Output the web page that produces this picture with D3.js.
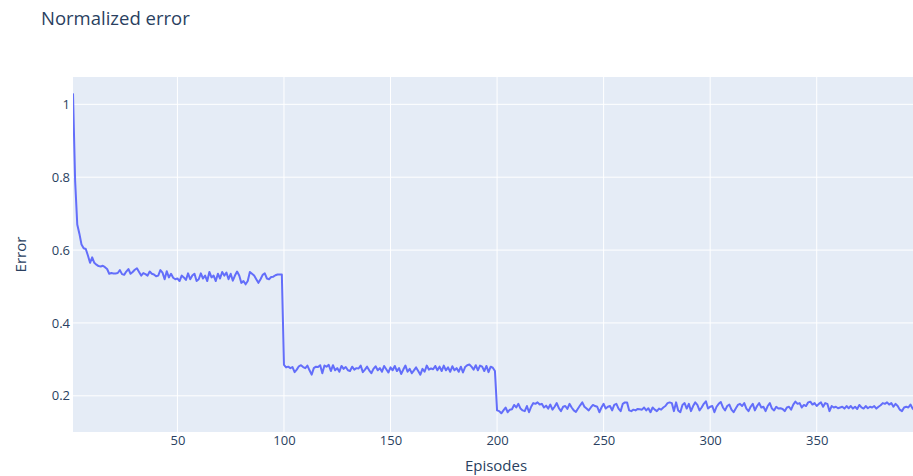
<html>
<script src='https://d3js.org/d3.v7.min.js'></script>
<style>
body {margin: 0; background: white;}
text {font-family: 'Open Sans', sans-serif; fill: #2a3f5f;}
</style>
<body>
<svg width=913 height=476></svg>
<script>
// episodes 1-100
var errA = [
  1.03, 0.79, 0.67, 0.645, 0.615, 0.605, 0.603, 0.585, 0.565, 0.58,
  0.565, 0.56, 0.556, 0.555, 0.557, 0.553, 0.548, 0.535, 0.537, 0.536,
  0.536, 0.537, 0.545, 0.534, 0.532, 0.541, 0.548, 0.535, 0.54, 0.546,
  0.55, 0.54, 0.53, 0.537, 0.534, 0.53, 0.541, 0.535, 0.533, 0.528,
  0.53, 0.545, 0.538, 0.52, 0.542, 0.525, 0.535, 0.524, 0.52, 0.522,
  0.515, 0.53, 0.525, 0.518, 0.536, 0.52, 0.53, 0.535, 0.515, 0.52,
  0.536, 0.522, 0.53, 0.515, 0.54, 0.525, 0.53, 0.515, 0.535, 0.522,
  0.54, 0.53, 0.538, 0.52, 0.535, 0.516, 0.53, 0.541, 0.53, 0.51,
  0.515, 0.506, 0.515, 0.54, 0.535, 0.53, 0.52, 0.51, 0.52, 0.532,
  0.536, 0.522, 0.52, 0.526, 0.527, 0.531, 0.533, 0.533, 0.533, 0.285
];
// episodes 101-200
var errB = [
  0.278, 0.28, 0.276, 0.279, 0.265, 0.272, 0.281, 0.284, 0.279, 0.276,
  0.283, 0.27, 0.258, 0.276, 0.28, 0.279, 0.284, 0.262, 0.283, 0.28,
  0.285, 0.268, 0.284, 0.27, 0.276, 0.266, 0.282, 0.274, 0.279, 0.27,
  0.268, 0.28, 0.272, 0.276, 0.275, 0.283, 0.265, 0.272, 0.28, 0.27,
  0.262, 0.274, 0.281, 0.27, 0.276, 0.266, 0.282, 0.273, 0.264, 0.278,
  0.27, 0.282, 0.268, 0.276, 0.26, 0.272, 0.283, 0.266, 0.274, 0.262,
  0.27, 0.278, 0.268, 0.258, 0.274, 0.266, 0.283, 0.272, 0.275, 0.273,
  0.282, 0.27, 0.28, 0.268, 0.283, 0.27, 0.278, 0.266, 0.281, 0.27,
  0.276, 0.266, 0.28, 0.264, 0.279, 0.284, 0.286, 0.28, 0.272, 0.284,
  0.27, 0.283, 0.28, 0.268, 0.282, 0.265, 0.28, 0.277, 0.268, 0.16
];
// episodes 201-398
var errC = [
  0.158, 0.152, 0.16, 0.168, 0.155, 0.162, 0.163, 0.175, 0.168, 0.178,
  0.165, 0.16, 0.158, 0.172, 0.155, 0.17, 0.18, 0.178, 0.182, 0.176,
  0.178, 0.168, 0.173, 0.165, 0.176, 0.162, 0.17, 0.18, 0.166, 0.158,
  0.17, 0.172, 0.164, 0.178, 0.168, 0.16, 0.156, 0.165, 0.174, 0.182,
  0.17, 0.165, 0.16, 0.168, 0.175, 0.172, 0.17, 0.155, 0.168, 0.178,
  0.165, 0.17, 0.172, 0.16, 0.175, 0.178, 0.165, 0.158, 0.178, 0.182,
  0.182, 0.16, 0.158, 0.162, 0.16, 0.164, 0.163, 0.162, 0.168, 0.16,
  0.166, 0.155, 0.168, 0.162, 0.158, 0.165, 0.162, 0.168, 0.172, 0.18,
  0.182, 0.18, 0.158, 0.182, 0.16, 0.155, 0.175, 0.18, 0.165, 0.178,
  0.158, 0.172, 0.182, 0.175, 0.16, 0.168, 0.178, 0.185, 0.165, 0.17,
  0.172, 0.155, 0.17, 0.178, 0.183, 0.168, 0.16, 0.172, 0.176, 0.162,
  0.155, 0.165, 0.175, 0.178, 0.172, 0.18, 0.165, 0.158, 0.17, 0.178,
  0.16, 0.172, 0.18, 0.168, 0.17, 0.158, 0.172, 0.18, 0.165, 0.16,
  0.17, 0.165, 0.166, 0.164, 0.158, 0.168, 0.17, 0.162, 0.176, 0.184,
  0.178, 0.18, 0.168, 0.175, 0.172, 0.182, 0.184, 0.176, 0.18, 0.172,
  0.178, 0.182, 0.17, 0.18, 0.178, 0.158, 0.172, 0.168, 0.17, 0.166,
  0.168, 0.17, 0.165, 0.172, 0.166, 0.172, 0.165, 0.17, 0.164, 0.175,
  0.168, 0.165, 0.172, 0.166, 0.17, 0.168, 0.172, 0.165, 0.17, 0.174,
  0.18, 0.178, 0.182, 0.176, 0.18, 0.17, 0.178, 0.172, 0.162, 0.158,
  0.168, 0.17, 0.168, 0.176, 0.165, 0.16, 0.172, 0.17
];
var xTicks = [50, 100, 150, 200, 250, 300, 350];
var yTicks = [0.2, 0.4, 0.6, 0.8, 1];

(function() {
var errors = errA.concat(errB, errC);
var data = errors.map(function(v, i) { return {ep: i + 1, err: v}; });

var mLeft = 73, mTop = 77, mRight = 919, mBottom = 432;
var svg = d3.select('svg');

var x = d3.scaleLinear([1, errors.length], [mLeft, mRight]);
var y = d3.scaleLinear([0.1007, 1.075], [mBottom, mTop]);

svg.append('rect')
  .attr('x', mLeft).attr('y', mTop)
  .attr('width', mRight - mLeft).attr('height', mBottom - mTop)
  .attr('fill', '#e5ecf6');

svg.append('clipPath').attr('id', 'clip')
  .append('rect')
  .attr('x', mLeft).attr('y', mTop)
  .attr('width', mRight - mLeft).attr('height', mBottom - mTop);

// grid
svg.append('g').selectAll('line')
  .data(xTicks).enter().append('line')
  .attr('x1', function(d) {return x(d);}).attr('x2', function(d) {return x(d);})
  .attr('y1', mTop).attr('y2', mBottom)
  .attr('stroke', 'white').attr('stroke-width', 1);

svg.append('g').selectAll('line')
  .data(yTicks).enter().append('line')
  .attr('x1', mLeft).attr('x2', mRight)
  .attr('y1', function(d) {return y(d);}).attr('y2', function(d) {return y(d);})
  .attr('stroke', 'white').attr('stroke-width', 1);

// axes
var xAxis = svg.append('g')
  .attr('transform', 'translate(0,' + mBottom + ')')
  .call(d3.axisBottom(x).tickValues(xTicks).tickSize(0).tickPadding(4));
var yAxis = svg.append('g')
  .attr('transform', 'translate(' + mLeft + ',0)')
  .call(d3.axisLeft(y).tickValues(yTicks).tickSize(0).tickPadding(3).tickFormat(d3.format('~g')));

[xAxis, yAxis].forEach(function(g) {
  g.select('.domain').remove();
  g.selectAll('text').attr('font-size', 13).attr('font-family', "'Open Sans', sans-serif").attr('fill', '#2a3f5f');
});

svg.append('path')
  .datum(data)
  .attr('clip-path', 'url(#clip)')
  .attr('fill', 'none')
  .attr('stroke', '#636efa')
  .attr('stroke-width', 2)
  .attr('stroke-linejoin', 'round')
  .attr('d', d3.line()
    .x(function(d) {return x(d.ep);})
    .y(function(d) {return y(d.err);}));

svg.append('text')
  .attr('x', 41).attr('y', 25)
  .attr('font-size', 18.5)
  .text('Normalized error');

svg.append('text')
  .attr('x', (mLeft + mRight) / 2).attr('y', 471)
  .attr('text-anchor', 'middle')
  .attr('font-size', 15)
  .text('Episodes');

svg.append('text')
  .attr('transform', 'translate(26,' + ((mTop + mBottom) / 2) + ') rotate(-90)')
  .attr('text-anchor', 'middle')
  .attr('font-size', 15)
  .text('Error');
})();
</script>
</body>
</html>
